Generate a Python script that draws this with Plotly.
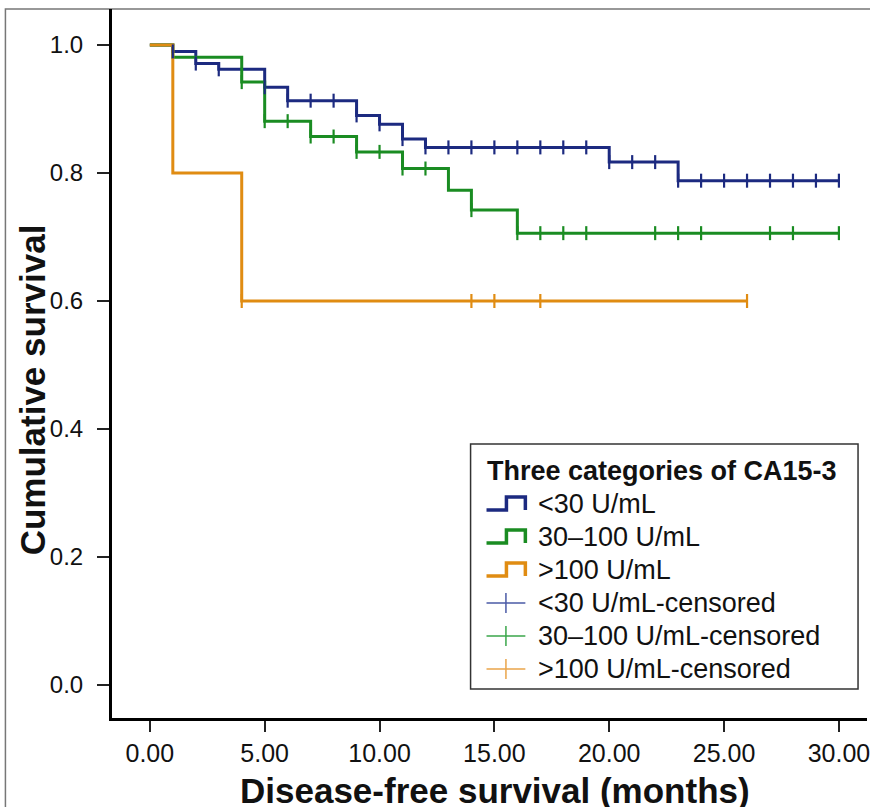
import plotly.graph_objects as go
import bisect

# ---------------- data ----------------
blue_name = "<30 U/mL"
blue_t = [0, 1, 2, 3, 5, 6, 9, 10, 11, 12, 20, 23]
blue_s = [1.0, 0.990, 0.971, 0.962, 0.934, 0.913, 0.890, 0.876, 0.853, 0.840, 0.817, 0.788]
blue_end = 30
blue_cens = [1, 2, 3, 5, 6, 7, 8, 9, 10, 11, 12, 13, 14, 15, 16, 17, 18, 19,
             20, 21, 22, 23, 24, 25, 26, 27, 28, 29, 30]

green_name = "30–100 U/mL"
green_t = [0, 1, 4, 5, 7, 9, 11, 13, 14, 16]
green_s = [1.0, 0.981, 0.942, 0.881, 0.857, 0.833, 0.807, 0.773, 0.742, 0.706]
green_end = 30
green_cens = [4, 5, 6, 7, 8, 9, 10, 11, 12, 14, 16, 17, 18, 19, 22, 23, 24, 27, 28, 30]

orange_name = ">100 U/mL"
orange_t = [0, 1, 4]
orange_s = [1.0, 0.8, 0.6]
orange_end = 26
orange_cens = [4, 14, 15, 17, 26]

x_ticks = [0, 5, 10, 15, 20, 25, 30]
y_ticks = [0.0, 0.2, 0.4, 0.6, 0.8, 1.0]

legend_title = "Three categories of CA15-3"
x_title = "Disease-free survival (months)"
y_title = "Cumulative survival"

# ---------------- styling ----------------
C_BLUE = "#1c2a80"
C_GREEN = "#1a8c22"
C_ORANGE = "#e08c12"
C_BLUE_L = "#4a5aa6"
C_GREEN_L = "#3aa64a"
C_ORANGE_L = "#eaa54a"
FONT = "Liberation Sans, Arial, sans-serif"

W, H = 870, 807
L, R, T, B = 112, 870, 9, 718


def px(x):
    return (x - L) / (R - L)


def py(y):
    return (B - y) / (B - T)


def surv_at(times, vals, t):
    i = bisect.bisect_right(times, t) - 1
    return vals[max(i, 0)]


fig = go.Figure()

series = [
    (blue_name, blue_t, blue_s, blue_end, blue_cens, C_BLUE),
    (green_name, green_t, green_s, green_end, green_cens, C_GREEN),
    (orange_name, orange_t, orange_s, orange_end, orange_cens, C_ORANGE),
]

for name, tt, ss, tend, cens, col in series:
    fig.add_trace(go.Scatter(
        x=tt + [tend], y=ss + [ss[-1]], mode="lines",
        line=dict(color=col, width=3, shape="hv"),
        name=name, showlegend=False, hoverinfo="skip"))
for name, tt, ss, tend, cens, col in series:
    fig.add_trace(go.Scatter(
        x=cens, y=[surv_at(tt, ss, c) for c in cens], mode="markers",
        marker=dict(symbol="line-ns", size=10, color=col,
                    line=dict(color=col, width=2.2)),
        name=name + "-censored", showlegend=False, cliponaxis=False))

x0 = (L - 150) / 23.06
x1 = (R - 150) / 23.06
y0 = (685 - B) / 640
y1 = (685 - T) / 640

fig.update_xaxes(range=[x0, x1], tickvals=x_ticks, tickformat=".2f",
                 showline=True, linewidth=3, linecolor="black",
                 ticks="outside", ticklen=11, tickwidth=1.5, tickcolor="#222",
                 showgrid=False, zeroline=False, ticklabeloverflow="allow",
                 tickfont=dict(family=FONT, size=25, color="#111"))
fig.update_yaxes(range=[y0, y1], tickvals=y_ticks, tickformat=".1f",
                 showline=True, linewidth=3, linecolor="black",
                 ticks="outside", ticklen=12, tickwidth=1.5, tickcolor="#222",
                 ticklabelstandoff=9,
                 showgrid=False, zeroline=False,
                 tickfont=dict(family=FONT, size=24, color="#111"))

shapes = []
annotations = []

# outer frame of the original figure
shapes.append(dict(type="rect", xref="paper", yref="paper",
                   x0=px(5), x1=px(R + 10), y0=py(H + 10), y1=py(T),
                   line=dict(color="#777", width=1.5), layer="below"))

# axis titles
annotations.append(dict(text="<b>" + x_title + "</b>", xref="paper", yref="paper",
                        x=px(497), y=py(790), showarrow=False, xanchor="center", yanchor="middle",
                        font=dict(family=FONT, size=35, color="#111")))
annotations.append(dict(text="<b>" + y_title + "</b>", xref="paper", yref="paper",
                        x=px(32), y=py(390), showarrow=False, textangle=-90,
                        xanchor="center", yanchor="middle",
                        font=dict(family=FONT, size=35, color="#111")))

# manual legend
shapes.append(dict(type="rect", xref="paper", yref="paper",
                   x0=px(472), x1=px(861), y0=py(689), y1=py(444),
                   line=dict(color="#333", width=1.5), fillcolor="white"))
annotations.append(dict(text="<b>" + legend_title + "</b>", xref="paper", yref="paper",
                        x=px(486), y=py(471), showarrow=False, xanchor="left", yanchor="middle",
                        font=dict(family=FONT, size=27, color="#111")))

leg_items = [
    (blue_name, C_BLUE, "step", 504),
    (green_name, C_GREEN, "step", 537),
    (orange_name, C_ORANGE, "step", 570),
    (blue_name + "-censored", C_BLUE_L, "cross", 603),
    (green_name + "-censored", C_GREEN_L, "cross", 636),
    (orange_name + "-censored", C_ORANGE_L, "cross", 669),
]
for label, col, kind, yc in leg_items:
    if kind == "step":
        pts = [(488, yc + 6), (508, yc + 6), (508, yc - 7), (527, yc - 7), (527, yc + 6)]
        path = "M " + " L ".join(f"{px(a)},{py(b)}" for a, b in pts)
        shapes.append(dict(type="path", xref="paper", yref="paper", path=path,
                           line=dict(color=col, width=3.5)))
    else:
        shapes.append(dict(type="line", xref="paper", yref="paper",
                           x0=px(488), x1=px(527), y0=py(yc), y1=py(yc),
                           line=dict(color=col, width=1.5)))
        shapes.append(dict(type="line", xref="paper", yref="paper",
                           x0=px(507.5), x1=px(507.5), y0=py(yc - 10), y1=py(yc + 10),
                           line=dict(color=col, width=1.5)))
    annotations.append(dict(text=label, xref="paper", yref="paper",
                            x=px(538), y=py(yc), showarrow=False, xanchor="left", yanchor="middle",
                            font=dict(family=FONT, size=27, color="#111")))

fig.update_layout(width=W, height=H, margin=dict(l=L, r=W - R, t=T, b=H - B),
                  paper_bgcolor="white", plot_bgcolor="white",
                  shapes=shapes, annotations=annotations, showlegend=False)

fig.write_html("out.html", config={"displayModeBar": False},
               post_script="document.body.style.margin='0px';document.body.style.overflow='hidden';")
